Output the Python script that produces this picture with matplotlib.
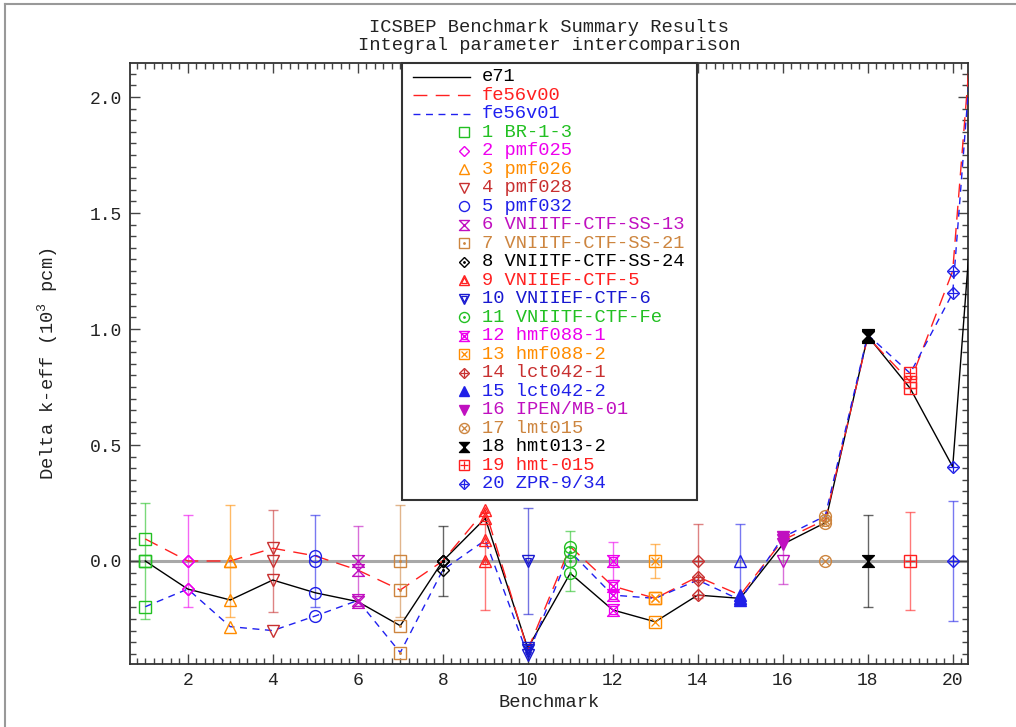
import numpy as np
import matplotlib.pyplot as plt
from matplotlib.path import Path
from matplotlib.lines import Line2D
from matplotlib.patches import Rectangle
from matplotlib.ticker import MultipleLocator, FormatStrFormatter

plt.rcParams['font.family'] = ['Liberation Mono', 'DejaVu Sans Mono']
plt.rcParams['mathtext.fontset'] = 'custom'
plt.rcParams['mathtext.rm'] = 'Liberation Mono'
plt.rcParams['mathtext.default'] = 'regular'

# benchmark cases
names = ['BR-1-3', 'pmf025', 'pmf026', 'pmf028', 'pmf032',
         'VNIITF-CTF-SS-13', 'VNIITF-CTF-SS-21', 'VNIITF-CTF-SS-24',
         'VNIIEF-CTF-5', 'VNIIEF-CTF-6', 'VNIITF-CTF-Fe',
         'hmf088-1', 'hmf088-2', 'lct042-1', 'lct042-2', 'IPEN/MB-01',
         'lmt015', 'hmt013-2', 'hmt-015', 'ZPR-9/34']
bench = np.arange(1, 21)

# experimental uncertainty (10^3 pcm)
exp_err = [0.25, 0.20, 0.24, 0.22, 0.20, 0.15, 0.24, 0.15, 0.21, 0.23,
           0.13, 0.08, 0.073, 0.16, 0.16, 0.10, 0.0, 0.20, 0.213, 0.26]

# C-E for each library; last value belongs to the next case beyond the axis
lib_x = np.arange(1, 22)
e71 = [0.0, -0.121, -0.168, -0.082, -0.137, -0.175, -0.279, 0.0, 0.184, -0.376,
       -0.053, -0.211, -0.262, -0.147, -0.161, 0.072, 0.165, 0.97, 0.744, 0.406, 2.83]
fe56v00 = [0.095, 0.0, 0.0, 0.055, 0.022, -0.039, -0.125, 0.0, 0.22, -0.384,
           0.062, -0.108, -0.161, -0.068, -0.147, 0.09, 0.177, 0.965, 0.773, 1.25, 3.55]
fe56v01 = [-0.197, -0.121, -0.283, -0.3, -0.237, -0.17, -0.395, -0.039, 0.09, -0.405,
           0.04, -0.147, -0.161, -0.082, -0.168, 0.102, 0.194, 0.975, 0.809, 1.155, 3.53]

lib_names = ['e71', 'fe56v00', 'fe56v01']
lib_vals = [e71, fe56v00, fe56v01]
lib_colors = ['black', '#ff2020', '#2020f0']
lib_styles = ['-', (0, (10, 6)), (0, (5, 4))]

green = '#22c022'
magenta = '#ee00ee'
orange = '#ff8c00'
darkred = '#c83030'
blue = '#2020e8'
purple = '#c010c0'
peru = '#cd853f'
red = '#ff2020'
colors = [green, magenta, orange, darkred, blue, purple, peru, 'black', red, '#1818d0',
          green, magenta, orange, darkred, blue, purple, peru, 'black', red, blue]

hourglass = Path([(-1, 1), (1, 1), (-1, -1), (1, -1), (-1, 1)],
                 [Path.MOVETO, Path.LINETO, Path.LINETO, Path.LINETO, Path.CLOSEPOLY])

# (outer marker, inner marker, fill): fill is False, True, or 'calc' (calculated points only)
symbols = [('s', None, False), ('D', None, False), ('^', None, False), ('v', None, False),
           ('o', None, False), (hourglass, None, False), ('s', '.', False), ('D', '.', False),
           ('^', '^', False), ('v', 'v', False), ('o', '.', False), (hourglass, 's', False),
           ('s', 'x', False), ('D', '+', False), ('^', None, 'calc'), ('v', None, 'calc'),
           ('o', 'x', False), (hourglass, None, True), ('s', '+', False), ('D', '+', False)]


def marker(ax, x, y, k, calc=True):
    outer, inner, fill = symbols[k]
    c = colors[k]
    filled = fill is True or (fill == 'calc' and calc)
    ms = 6.2 if outer == 'D' else 8.5
    ax.plot(x, y, ls='none', marker=outer, ms=ms, mec=c, mew=1.0,
            mfc=c if filled else 'none', zorder=6)
    if inner is not None:
        ims = {'.': 2.5, 'x': 5.5, '+': 6.5, '^': 4.5, 'v': 4.5, 's': 6.0}[inner]
        ax.plot(x, y, ls='none', marker=inner, ms=ims, mec=c, mew=0.9,
                mfc=c if inner == '.' else 'none', zorder=6)


fig = plt.figure(figsize=(10.16, 7.27), dpi=100)
ax = fig.add_axes([130 / 1016, 1 - 664 / 727, 838 / 1016, 601.3 / 727])

ax.axhline(0, color='#a8a8a8', lw=2.2, zorder=1)

for k, b in enumerate(bench):
    if exp_err[k] > 0:
        ax.errorbar(b, 0, yerr=exp_err[k], fmt='none', ecolor=colors[k], alpha=0.6,
                    elinewidth=1.0, capsize=3.5, capthick=1.0, zorder=2)

for vals, c, st in zip(lib_vals, lib_colors, lib_styles):
    ax.plot(lib_x, vals, color=c, ls=st, lw=1.0, zorder=3)

for k, b in enumerate(bench):
    marker(ax, b, 0, k, calc=False)
    for vals in lib_vals:
        marker(ax, b, vals[k], k)

ax.set_xlim(0.64, 20.36)
ax.set_ylim(-0.444, 2.148)
ax.set_xticks(np.arange(2, 21, 2))
ax.set_yticks([0.0, 0.5, 1.0, 1.5, 2.0])
ax.yaxis.set_major_formatter(FormatStrFormatter('%.1f'))
ax.xaxis.set_minor_locator(MultipleLocator(0.2))
ax.yaxis.set_minor_locator(MultipleLocator(0.05))
ax.tick_params(which='both', direction='in', top=True, right=True, color='#444444',
               width=1.0, labelsize=13, labelcolor='#222222')
ax.tick_params(which='major', length=7.5, pad=6)
ax.tick_params(which='minor', length=4)
for sp in ax.spines.values():
    sp.set_color('#333333')
    sp.set_linewidth(1.3)

ax.set_xlabel('Benchmark', fontsize=13.5, color='#222222')
ax.set_ylabel('Delta k-eff (10$^3$ pcm)', fontsize=13.5, color='#222222')
ax.xaxis.set_label_coords(0.5, -0.05)
ax.yaxis.set_label_coords(-0.083, 0.5)

fig.text(549 / 1016, 1 - 28 / 727, 'ICSBEP Benchmark Summary Results',
         ha='center', va='center', fontsize=13.5, color='#222222')
fig.text(549 / 1016, 1 - 46 / 727, 'Integral parameter intercomparison',
         ha='center', va='center', fontsize=13.5, color='#222222')

# legend box
lx0, lx1, ly0 = 0.3246, 0.677, 0.2727
ax.add_patch(Rectangle((lx0, ly0), lx1 - lx0, 1 - ly0, transform=ax.transAxes,
                       facecolor='white', edgecolor='#333333', lw=1.5, zorder=8,
                       clip_on=False))
row0, dy = 0.9767, 0.03077
line_x = [0.3377, 0.4057]
mark_x = 0.3986
text_x = 0.4197
for i, (nm, c, st) in enumerate(zip(lib_names, lib_colors, lib_styles)):
    y = row0 - i * dy
    ax.plot(line_x, [y, y], color=c, ls=st, lw=1.0, transform=ax.transAxes,
            zorder=9, clip_on=False)
    ax.text(text_x, y, nm, color=c, fontsize=13.5, va='center', ha='left',
            transform=ax.transAxes, zorder=9)
for k, nm in enumerate(names):
    y = row0 - (k + 3) * dy
    outer, inner, fill = symbols[k]
    ax.text(text_x, y, f'{k + 1} {nm}', color=colors[k], fontsize=13.5,
            va='center', ha='left', transform=ax.transAxes, zorder=9)
    ax.plot(mark_x, y, ls='none', marker=outer, ms=(5.2 if outer == 'D' else 7.2),
            mec=colors[k], mew=1.0, mfc=colors[k] if fill else 'none',
            transform=ax.transAxes, zorder=9, clip_on=False)
    if inner is not None:
        ims = {'.': 2.2, 'x': 4.5, '+': 5.5, '^': 3.8, 'v': 3.8, 's': 5.0}[inner]
        ax.plot(mark_x, y, ls='none', marker=inner, ms=ims, mec=colors[k], mew=0.9,
                mfc=colors[k] if inner == '.' else 'none',
                transform=ax.transAxes, zorder=9, clip_on=False)

# page frame
fig.add_artist(Line2D([5 / 1016, 1], [1 - 4 / 727] * 2, color='#999999', lw=1.5))
fig.add_artist(Line2D([5 / 1016] * 2, [0, 1 - 4 / 727], color='#999999', lw=1.5))

fig.savefig('out.png', dpi=100)
